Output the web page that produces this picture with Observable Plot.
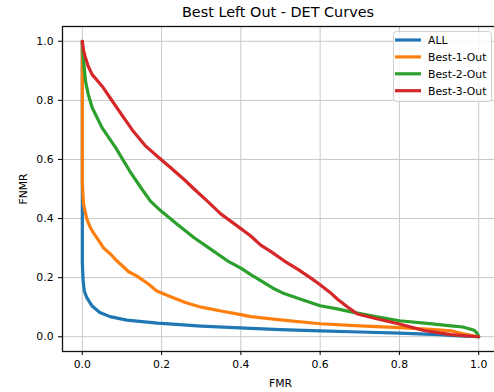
<!DOCTYPE html>
<html><head><meta charset="utf-8">
<script src="https://cdn.jsdelivr.net/npm/d3@7"></script>
<script src="https://cdn.jsdelivr.net/npm/@observablehq/plot@0.6"></script>
<style>
html,body{margin:0;padding:0;background:#fff;overflow:hidden;width:494px;height:392px}
#title{width:494px;height:22px;box-sizing:border-box;padding-left:62px;padding-right:0;text-align:center;font-family:"DejaVu Sans";font-size:14.4px;line-height:14px;padding-top:5px;color:#000;white-space:nowrap}
#chart svg{display:block;max-width:none !important;overflow:visible}
</style></head><body>
<div id="title">Best Left Out - DET Curves</div>
<div id="chart"></div>
<script>
const seriesNames = ["ALL", "Best-1-Out", "Best-2-Out", "Best-3-Out"];
const seriesColors = ["#1f77b4", "#ff7f0e", "#2ca02c", "#d62728"];
const tickValues = [0, 0.2, 0.4, 0.6, 0.8, 1.0];

const fmrAll  = [0, 0, 0.002, 0.005, 0.011, 0.024, 0.044, 0.07, 0.112, 0.19, 0.3, 0.425, 0.5, 0.6, 0.7, 0.8, 0.9, 0.95, 1.0];
const fnmrAll = [1.0, 0.25, 0.19, 0.155, 0.133, 0.105, 0.082, 0.068, 0.056, 0.046, 0.036, 0.028, 0.024, 0.02, 0.016, 0.012, 0.007, 0.003, 0.0];

const fmrBest1  = [0, 0, 0.003, 0.011, 0.02, 0.029, 0.044, 0.054, 0.071, 0.087, 0.117, 0.137, 0.165, 0.188, 0.22, 0.26, 0.3, 0.35, 0.4, 0.425, 0.5, 0.6, 0.7, 0.8, 0.88, 0.93, 0.96, 1.0];
const fnmrBest1 = [1.0, 0.52, 0.45, 0.40, 0.37, 0.35, 0.32, 0.30, 0.28, 0.257, 0.22, 0.206, 0.18, 0.155, 0.137, 0.116, 0.1, 0.087, 0.075, 0.068, 0.057, 0.044, 0.037, 0.031, 0.025, 0.02, 0.01, 0.0];

const fmrBest2  = [0, 0.002, 0.008, 0.015, 0.025, 0.05, 0.084, 0.12, 0.15, 0.172, 0.198, 0.24, 0.282, 0.32, 0.366, 0.4, 0.425, 0.45, 0.48, 0.509, 0.551, 0.6, 0.64, 0.678, 0.74, 0.8, 0.87, 0.93, 0.96, 0.989, 0.997, 1.0];
const fnmrBest2 = [1.0, 0.95, 0.865, 0.82, 0.775, 0.707, 0.64, 0.56, 0.50, 0.459, 0.426, 0.38, 0.335, 0.30, 0.257, 0.232, 0.21, 0.19, 0.165, 0.146, 0.127, 0.105, 0.095, 0.084, 0.068, 0.054, 0.045, 0.037, 0.033, 0.022, 0.01, 0.0];

const fmrBest3  = [0, 0.003, 0.008, 0.015, 0.025, 0.05, 0.076, 0.1, 0.126, 0.16, 0.2, 0.223, 0.261, 0.282, 0.316, 0.35, 0.4, 0.425, 0.45, 0.476, 0.509, 0.543, 0.575, 0.6, 0.625, 0.644, 0.67, 0.694, 0.745, 0.8, 0.862, 0.93, 1.0];
const fnmrBest3 = [1.0, 0.97, 0.944, 0.915, 0.887, 0.848, 0.797, 0.75, 0.70, 0.645, 0.598, 0.572, 0.527, 0.50, 0.458, 0.415, 0.366, 0.341, 0.31, 0.288, 0.257, 0.229, 0.20, 0.176, 0.15, 0.127, 0.1, 0.077, 0.06, 0.043, 0.021, 0.007, 0.0];

const seriesData = [[fmrAll, fnmrAll], [fmrBest1, fnmrBest1], [fmrBest2, fnmrBest2], [fmrBest3, fnmrBest3]];
const rows = [];
seriesData.forEach(([xs, ys], i) => xs.forEach((x, j) => rows.push({series: seriesNames[i], fmr: x, fnmr: ys[j]})));

const fmt = d3.format(".1f");
const svg = Plot.plot({
  width: 494, height: 370,
  marginLeft: 62, marginRight: -4, marginTop: 4, marginBottom: 41,
  style: {fontFamily: "DejaVu Sans", fontSize: "10.8px", color: "#000", background: "#fff", overflow: "visible"},
  x: {domain: [-0.05, 1.05]},
  y: {domain: [-0.05, 1.05]},
  color: {domain: seriesNames, range: seriesColors},
  marks: [
    Plot.gridX(tickValues, {stroke: "#c8c8c8", strokeOpacity: 1, strokeWidth: 1}),
    Plot.gridY(tickValues, {stroke: "#c8c8c8", strokeOpacity: 1, strokeWidth: 1}),
    Plot.line(rows, {x: "fmr", y: "fnmr", z: "series", stroke: "series", strokeWidth: 3.2, strokeLinejoin: "round"}),
    Plot.frame({stroke: "#111", strokeWidth: 1.3}),
    Plot.axisX(tickValues, {tickSize: 4, tickPadding: 5, tickFormat: fmt, stroke: "#111", strokeWidth: 1.1, label: "FMR", labelAnchor: "center", labelOffset: 35, labelArrow: "none"}),
    Plot.axisY(tickValues, {tickSize: 4, tickPadding: 5, tickFormat: fmt, stroke: "#111", strokeWidth: 1.1, label: "FNMR", labelAnchor: "center", labelOffset: 43, labelArrow: "none"})
  ]
});
document.getElementById("chart").appendChild(svg);

// legend (upper right, inside the axes)
const lg = d3.select(svg).append("g").attr("font-family", "DejaVu Sans").attr("font-size", "10.8px").attr("text-anchor", "start");
lg.append("rect").attr("x", 393.5).attr("y", 9.5).attr("width", 98).attr("height", 70).attr("rx", 3)
  .attr("fill", "#fff").attr("fill-opacity", 0.8).attr("stroke", "#d0d0d0");
seriesNames.forEach((name, i) => {
  const cy = 18 + i * 16.9;
  lg.append("line").attr("x1", 395).attr("x2", 421).attr("y1", cy).attr("y2", cy)
    .attr("stroke", seriesColors[i]).attr("stroke-width", 3.2);
  lg.append("text").attr("x", 428).attr("y", cy).attr("dy", "0.36em").attr("fill", "#000").attr("text-anchor", "start").text(name);
});
</script>
</body></html>
